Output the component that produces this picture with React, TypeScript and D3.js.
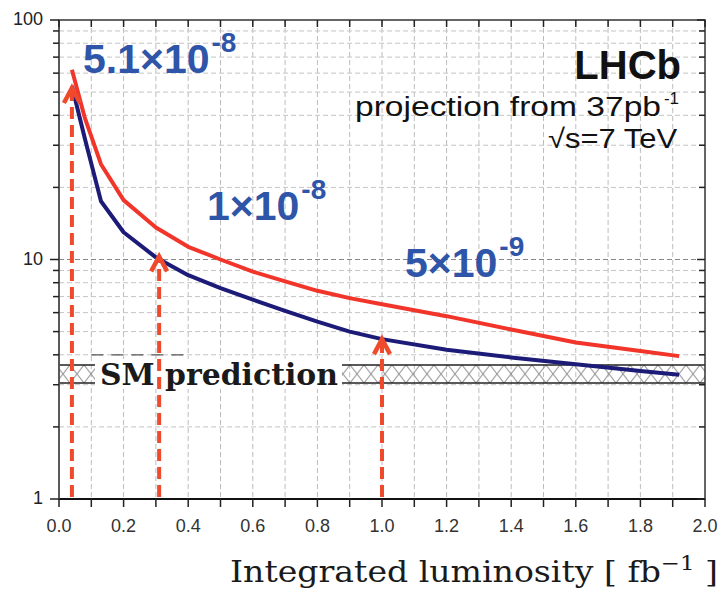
import React from "react";
import * as d3 from "d3";

// integrated luminosity [fb^-1] and the two projected limit curves (x 1e-9)
const lumi = [0.04, 0.08, 0.13, 0.2, 0.3, 0.4, 0.5, 0.6, 0.7, 0.8, 0.9, 1.0, 1.2, 1.4, 1.6, 1.8, 1.92];
const redLimit = [62, 39, 25, 17.7, 13.6, 11.3, 10.0, 8.9, 8.1, 7.4, 6.9, 6.5, 5.8, 5.1, 4.5, 4.15, 3.95];
const navyLimit = [53, 32, 17.5, 13.0, 10.2, 8.6, 7.6, 6.8, 6.1, 5.5, 5.0, 4.65, 4.2, 3.9, 3.65, 3.42, 3.3];

// SM prediction band
const smLow = 3.05;
const smHigh = 3.63;

// arrows: luminosity and the limit they point at
const arrowLumi = [0.04, 0.31, 1.0];
const arrowTip = [52, 10.3, 4.65];
const arrowBase = [5.1, 1, 5];
const arrowExp = ["-8", "-8", "-9"];

const xTickValues = d3.range(0, 2.01, 0.2);
const xMinor = d3.range(0, 2.01, 0.1);
const yMajor = [1, 10, 100];
const yMinor = [2, 3, 4, 5, 6, 7, 8, 9, 20, 30, 40, 50, 60, 70, 80, 90];

const W = 720;
const H = 593;

export default function App() {
  const x = d3.scaleLinear().domain([0, 2]).range([59, 705]);
  const y = d3.scaleLog().domain([1, 100]).range([499, 20]);

  const line = d3
    .line<number>()
    .x((_, i) => x(lumi[i]))
    .y((d) => y(d));

  const bandTop = y(smHigh);
  const bandBot = y(smLow);

  // annotation label positions (pixel layout)
  const labelPos = [
    { x: 83, y: 73 },
    { x: 207, y: 220 },
    { x: 405, y: 277 },
  ];

  return (
    <svg
      width={W}
      height={H}
      style={{ position: "absolute", left: 0, top: 0, background: "#fff" }}
    >
      <defs>
        <pattern id="hatch" patternUnits="userSpaceOnUse" x={0} y={bandTop} width={14} height={bandBot - bandTop}>
          <path
            d={`M0,0 L14,${bandBot - bandTop} M14,0 L0,${bandBot - bandTop}`}
            stroke="#8a8a8a"
            strokeWidth={1}
            fill="none"
          />
        </pattern>
        <clipPath id="plot">
          <rect x={59} y={20} width={646} height={479} />
        </clipPath>
      </defs>

      {/* grid */}
      <g stroke="#bcbcbc" strokeWidth={1} strokeDasharray="5,3">
        {xMinor.slice(1, -1).map((v) => (
          <line key={"gx" + v} x1={x(v)} x2={x(v)} y1={20} y2={499} />
        ))}
        {yMinor.concat([10]).map((v) => (
          <line key={"gy" + v} x1={59} x2={705} y1={y(v)} y2={y(v)} stroke={v === 10 ? "#888" : "#c4c4c4"} />
        ))}
      </g>

      {/* SM band */}
      <rect x={59} y={bandTop} width={646} height={bandBot - bandTop} fill="url(#hatch)" />
      <line x1={59} x2={705} y1={bandTop} y2={bandTop} stroke="#222" strokeWidth={1.5} />
      <line x1={59} x2={705} y1={bandBot} y2={bandBot} stroke="#222" strokeWidth={1.5} />
      <rect x={95} y={bandTop - 6} width={247} height={bandBot - bandTop + 12} fill="#fff" />
      <line x1={x(0.1)} x2={x(0.4)} y1={y(4)} y2={y(4)} stroke="#555" strokeWidth={1.2} strokeDasharray="12,8" />
      <text
        x={100}
        y={385}
        textLength={238}
        lengthAdjust="spacingAndGlyphs"
        fontFamily="'DejaVu Serif', serif"
        fontWeight="bold"
        fontSize={30}
        fill="#1a1a1a"
      >
        SM prediction
      </text>

      {/* curves */}
      <g clipPath="url(#plot)" fill="none" strokeWidth={4} strokeLinejoin="round">
        <path d={line(redLimit) || ""} stroke="#f2352a" />
        <path d={line(navyLimit) || ""} stroke="#1d1b78" />
      </g>

      {/* arrows */}
      {arrowLumi.map((l, i) => {
        const ax = x(l);
        const tip = y(arrowTip[i]);
        return (
          <g key={"a" + i} stroke="#f04a2c" strokeWidth={4} fill="none">
            <line x1={ax} x2={ax} y1={497} y2={tip + 4} strokeDasharray="12,6" />
            <path d={`M${ax - 8},${tip + 15} L${ax},${tip} L${ax + 8},${tip + 15}`} strokeWidth={4.5} strokeLinejoin="miter" />
          </g>
        );
      })}

      {/* annotations */}
      {arrowBase.map((b, i) => (
        <text
          key={"t" + i}
          x={labelPos[i].x}
          y={labelPos[i].y}
          fontFamily="'Liberation Sans', Arial, sans-serif"
          fontWeight="bold"
          fontSize={41}
          fill="#2e55a8"
        >
          {`${b}×10`}
          <tspan dx={2} dy={-21} fontSize={28}>
            {arrowExp[i]}
          </tspan>
        </text>
      ))}

      <g fontFamily="'Liberation Sans', Arial, sans-serif" fill="#111" textAnchor="end">
        <text x={681} y={79} fontSize={40} fontWeight="bold">
          LHCb
        </text>
        <text x={661} y={116} fontSize={27} textLength={306} lengthAdjust="spacingAndGlyphs">
          projection from 37pb
        </text>
        <text x={679} y={104} fontSize={17}>
          -1
        </text>
        <text x={677} y={148} fontSize={27} textLength={129} lengthAdjust="spacingAndGlyphs">
          √s=7 TeV
        </text>
      </g>

      {/* frame */}
      <rect x={59} y={20} width={646} height={479} fill="none" stroke="#333" strokeWidth={1.5} />
      <line x1={59} x2={705} y1={499} y2={499} stroke="#111" strokeWidth={2} />
      <line x1={59} x2={59} y1={20} y2={499} stroke="#555" strokeWidth={1.5} />

      {/* ticks */}
      <g stroke="#222" strokeWidth={1.5}>
        {xMinor.map((v) => (
          <g key={"xt" + v}>
            <line x1={x(v)} x2={x(v)} y1={499} y2={507} />
            <line x1={x(v)} x2={x(v)} y1={20} y2={27} />
          </g>
        ))}
        {yMajor.map((v) => (
          <g key={"yM" + v}>
            <line x1={50} x2={59} y1={y(v)} y2={y(v)} />
            <line x1={697} x2={705} y1={y(v)} y2={y(v)} />
          </g>
        ))}
        {yMinor.map((v) => (
          <g key={"ym" + v}>
            <line x1={53} x2={59} y1={y(v)} y2={y(v)} />
            <line x1={699} x2={705} y1={y(v)} y2={y(v)} />
          </g>
        ))}
      </g>

      <g fontFamily="'Liberation Sans', Arial, sans-serif" fill="#333" fontSize={18} textAnchor="middle">
        {xTickValues.map((v) => (
          <text key={"xl" + v} x={x(v)} y={532}>
            {v.toFixed(1)}
          </text>
        ))}
      </g>
      <g fontFamily="'Liberation Sans', Arial, sans-serif" fill="#222" fontSize={18} textAnchor="end">
        {yMajor.map((v) => (
          <text key={"yl" + v} x={43} y={y(v) + 5}>
            {v}
          </text>
        ))}
      </g>

      <text
        x={230}
        y={582}
        textLength={488}
        lengthAdjust="spacingAndGlyphs"
        fontFamily="'DejaVu Serif', serif"
        fontSize={29}
        fill="#1a1a1a"
      >
        Integrated luminosity [ fb
        <tspan dy={-12} fontSize={20}>
          −1
        </tspan>
        <tspan dy={12}> ]</tspan>
      </text>
    </svg>
  );
}
